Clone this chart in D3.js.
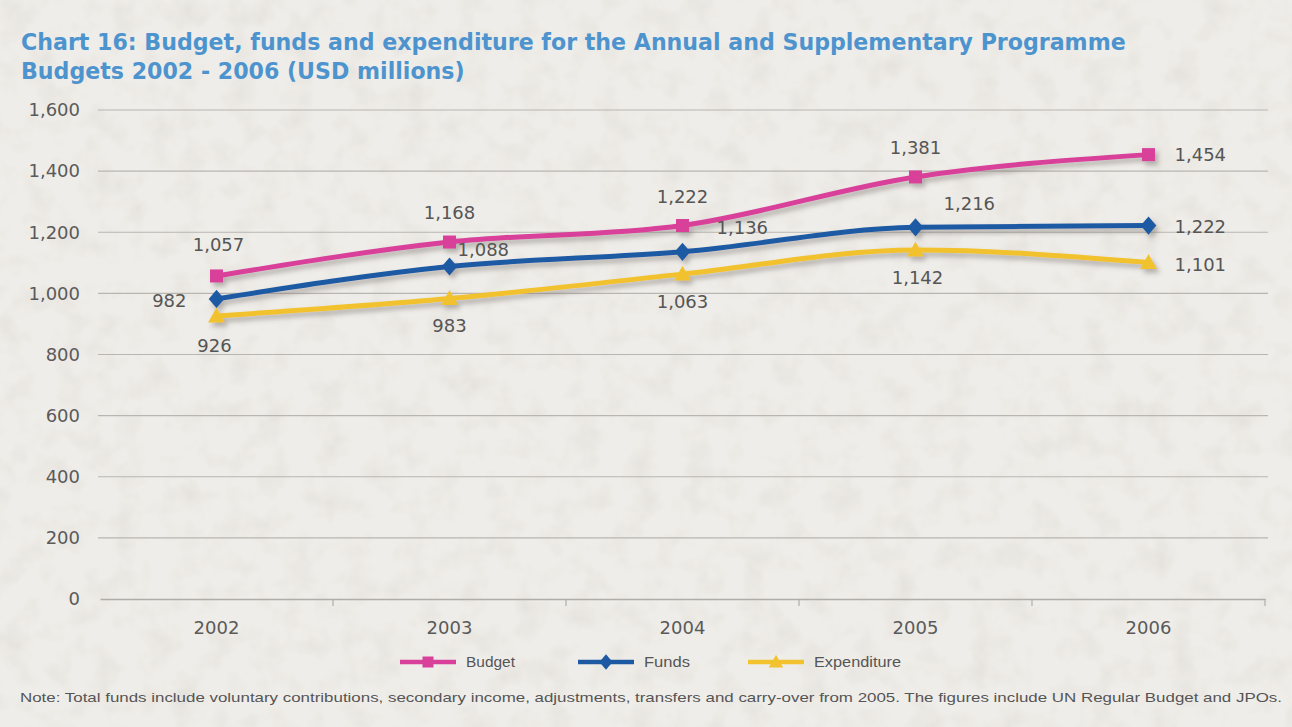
<!DOCTYPE html>
<html><head><meta charset="utf-8">
<script src="https://cdn.jsdelivr.net/npm/d3@7"></script>
<style>body{margin:0;background:#eeebe6;}svg{display:block;}</style>
</head><body>
<script>
const years = ["2002","2003","2004","2005","2006"];
const budget = [1057,1168,1222,1381,1454];
const funds = [982,1088,1136,1216,1222];
const expenditure = [926,983,1063,1142,1101];
const yTicks = [0,200,400,600,800,1000,1200,1400,1600];
const seriesNames = ["Budget","Funds","Expenditure"];
const titleLines = ["Chart 16: Budget, funds and expenditure for the Annual and Supplementary Programme","Budgets 2002 - 2006 (USD millions)"];
const note = "Note: Total funds include voluntary contributions, secondary income, adjustments, transfers and carry-over from 2005. The figures include UN Regular Budget and JPOs.";

const W=1292,H=727;
const svg=d3.select("body").append("svg").attr("width",W).attr("height",H);
const defs=svg.append("defs");
const f=defs.append("filter").attr("id","paper").attr("x",0).attr("y",0).attr("width","100%").attr("height","100%");
f.append("feTurbulence").attr("type","fractalNoise").attr("baseFrequency",0.035).attr("numOctaves",3).attr("seed",4).attr("result","n");
f.append("feColorMatrix").attr("in","n").attr("type","matrix").attr("values","0 0 0 0 0.55  0 0 0 0 0.52  0 0 0 0 0.48  0 0 0 -1.1 0.62").attr("result","c");
f.append("feComposite").attr("in","c").attr("in2","SourceGraphic").attr("operator","over");
const sh=defs.append("filter").attr("id","shadow").attr("x","-10%").attr("y","-20%").attr("width","120%").attr("height","160%");
sh.append("feDropShadow").attr("dx",3).attr("dy",4).attr("stdDeviation",2.5).attr("flood-color","#6a6660").attr("flood-opacity",0.45);

svg.append("rect").attr("width",W).attr("height",H).attr("fill","#eeebe6").attr("filter","url(#paper)");
svg.append("rect").attr("width",W).attr("height",H).attr("fill","#f1efeb").attr("opacity",0.55);

// title
const tg=svg.append("g");
titleLines.forEach((t,i)=>{
  tg.append("text").attr("x",21).attr("y",50+i*29).text(t)
    .attr("font-family","DejaVu Sans").attr("font-weight","bold").attr("font-size",23).attr("fill","#4d94cf");
});
const t0=tg.select("text").node();
const L=t0.getComputedTextLength();
const fs=23*1105/L;
tg.selectAll("text").attr("font-size",fs);

const x=d3.scaleBand().domain(years).range([100,1265]);
const y=d3.scaleLinear().domain([0,1600]).range([599,110]);

// grid
const grid=svg.append("g");
grid.selectAll("line").data(yTicks.filter(d=>d>0)).join("line")
 .attr("x1",98).attr("x2",1268).attr("y1",d=>y(d)).attr("y2",d=>y(d))
 .attr("stroke","#b9b6b1").attr("stroke-width",1.2);

// y axis labels
const ya=svg.append("g").attr("transform","translate(98,0)")
 .call(d3.axisLeft(y).tickValues(yTicks).tickSize(0).tickPadding(18).tickFormat(d3.format(",")));
ya.select(".domain").remove();
ya.selectAll("text").attr("font-family","DejaVu Sans").attr("font-size",18).attr("fill","#5a5a5a");

// x axis
const xa=svg.append("g").attr("transform","translate(0,599)")
 .call(d3.axisBottom(x).tickSize(0).tickPadding(22));
xa.select(".domain").attr("stroke","#b0ada8").attr("stroke-width",1.5);
xa.selectAll("text").attr("font-family","DejaVu Sans").attr("font-size",18).attr("fill","#5a5a5a");
svg.append("g").selectAll("line").data(years.slice(1).concat(["end"])).join("line")
 .attr("x1",(d,i)=>x.range()[0]+x.step()*(i+1)).attr("x2",(d,i)=>x.range()[0]+x.step()*(i+1))
 .attr("y1",599).attr("y2",606).attr("stroke","#b0ada8").attr("stroke-width",1.2);

const colors={Budget:"#d8409a",Funds:"#1d5aa3",Expenditure:"#f2c22f"};
const seriesData={Budget:budget,Funds:funds,Expenditure:expenditure};
const cx=d=>x(d)+x.bandwidth()/2;
const line=d3.line().x(d=>cx(d.year)).y(d=>y(d.v)).curve(d3.curveMonotoneX);

function marker(g,name,px,py,s){
  const c=colors[name];
  if(name==="Budget") g.append("rect").attr("x",px-s).attr("y",py-s).attr("width",2*s).attr("height",2*s).attr("fill",c);
  else if(name==="Funds") g.append("path").attr("d",`M${px},${py-s*1.4}L${px+s*1.2},${py}L${px},${py+s*1.4}L${px-s*1.2},${py}Z`).attr("fill",c);
  else g.append("path").attr("d",`M${px},${py-s*1.3}L${px+s*1.3},${py+s}L${px-s*1.3},${py+s}Z`).attr("fill",c);
}

const lg=svg.append("g").attr("filter","url(#shadow)");
["Expenditure","Funds","Budget"].forEach(name=>{
  const data=years.map((yr,i)=>({year:yr,v:seriesData[name][i]}));
  lg.append("path").datum(data).attr("d",line).attr("fill","none").attr("stroke",colors[name]).attr("stroke-width",5).attr("stroke-linecap","round");
  data.forEach(d=>marker(lg,name,cx(d.year),y(d.v),6.5));
});

// data labels: offsets [dx,dy,anchor]
const labelPos={
 Budget:[[2,-25,"middle"],[0,-23,"middle"],[0,-23,"middle"],[0,-23,"middle"],[26,6,"start"]],
 Funds:[[-30,8,"end"],[8,-10,"start"],[34,-18,"start"],[28,-17,"start"],[26,7,"start"]],
 Expenditure:[[-2,36,"middle"],[0,33,"middle"],[0,34,"middle"],[2,34,"middle"],[26,8,"start"]]
};
const lab=svg.append("g");
seriesNames.forEach(name=>{
  seriesData[name].forEach((v,i)=>{
    const p=labelPos[name][i];
    lab.append("text").attr("x",cx(years[i])+p[0]).attr("y",y(v)+p[1]).attr("text-anchor",p[2])
     .attr("font-family","DejaVu Sans").attr("font-size",18).attr("fill","#555").text(d3.format(",")(v));
  });
});

// legend
const legX={Budget:400,Funds:578,Expenditure:748};
const leg=svg.append("g");
seriesNames.forEach(name=>{
  const gx=legX[name], gy=662;
  leg.append("line").attr("x1",gx).attr("x2",gx+56).attr("y1",gy).attr("y2",gy).attr("stroke",colors[name]).attr("stroke-width",4.5);
  marker(leg,name,gx+28,gy,5.5);
  leg.append("text").attr("x",gx+66).attr("y",gy+5).text(name)
    .attr("font-family","Liberation Sans").attr("font-size",15).attr("fill","#555")
    .attr("textLength",{Budget:49,Funds:46,Expenditure:87}[name]).attr("lengthAdjust","spacingAndGlyphs");
});

// note
svg.append("text").attr("x",20).attr("y",702).text(note)
 .attr("font-family","Liberation Sans").attr("font-size",13.5).attr("fill","#555")
 .attr("textLength",1262).attr("lengthAdjust","spacingAndGlyphs");
</script>
</body></html>
